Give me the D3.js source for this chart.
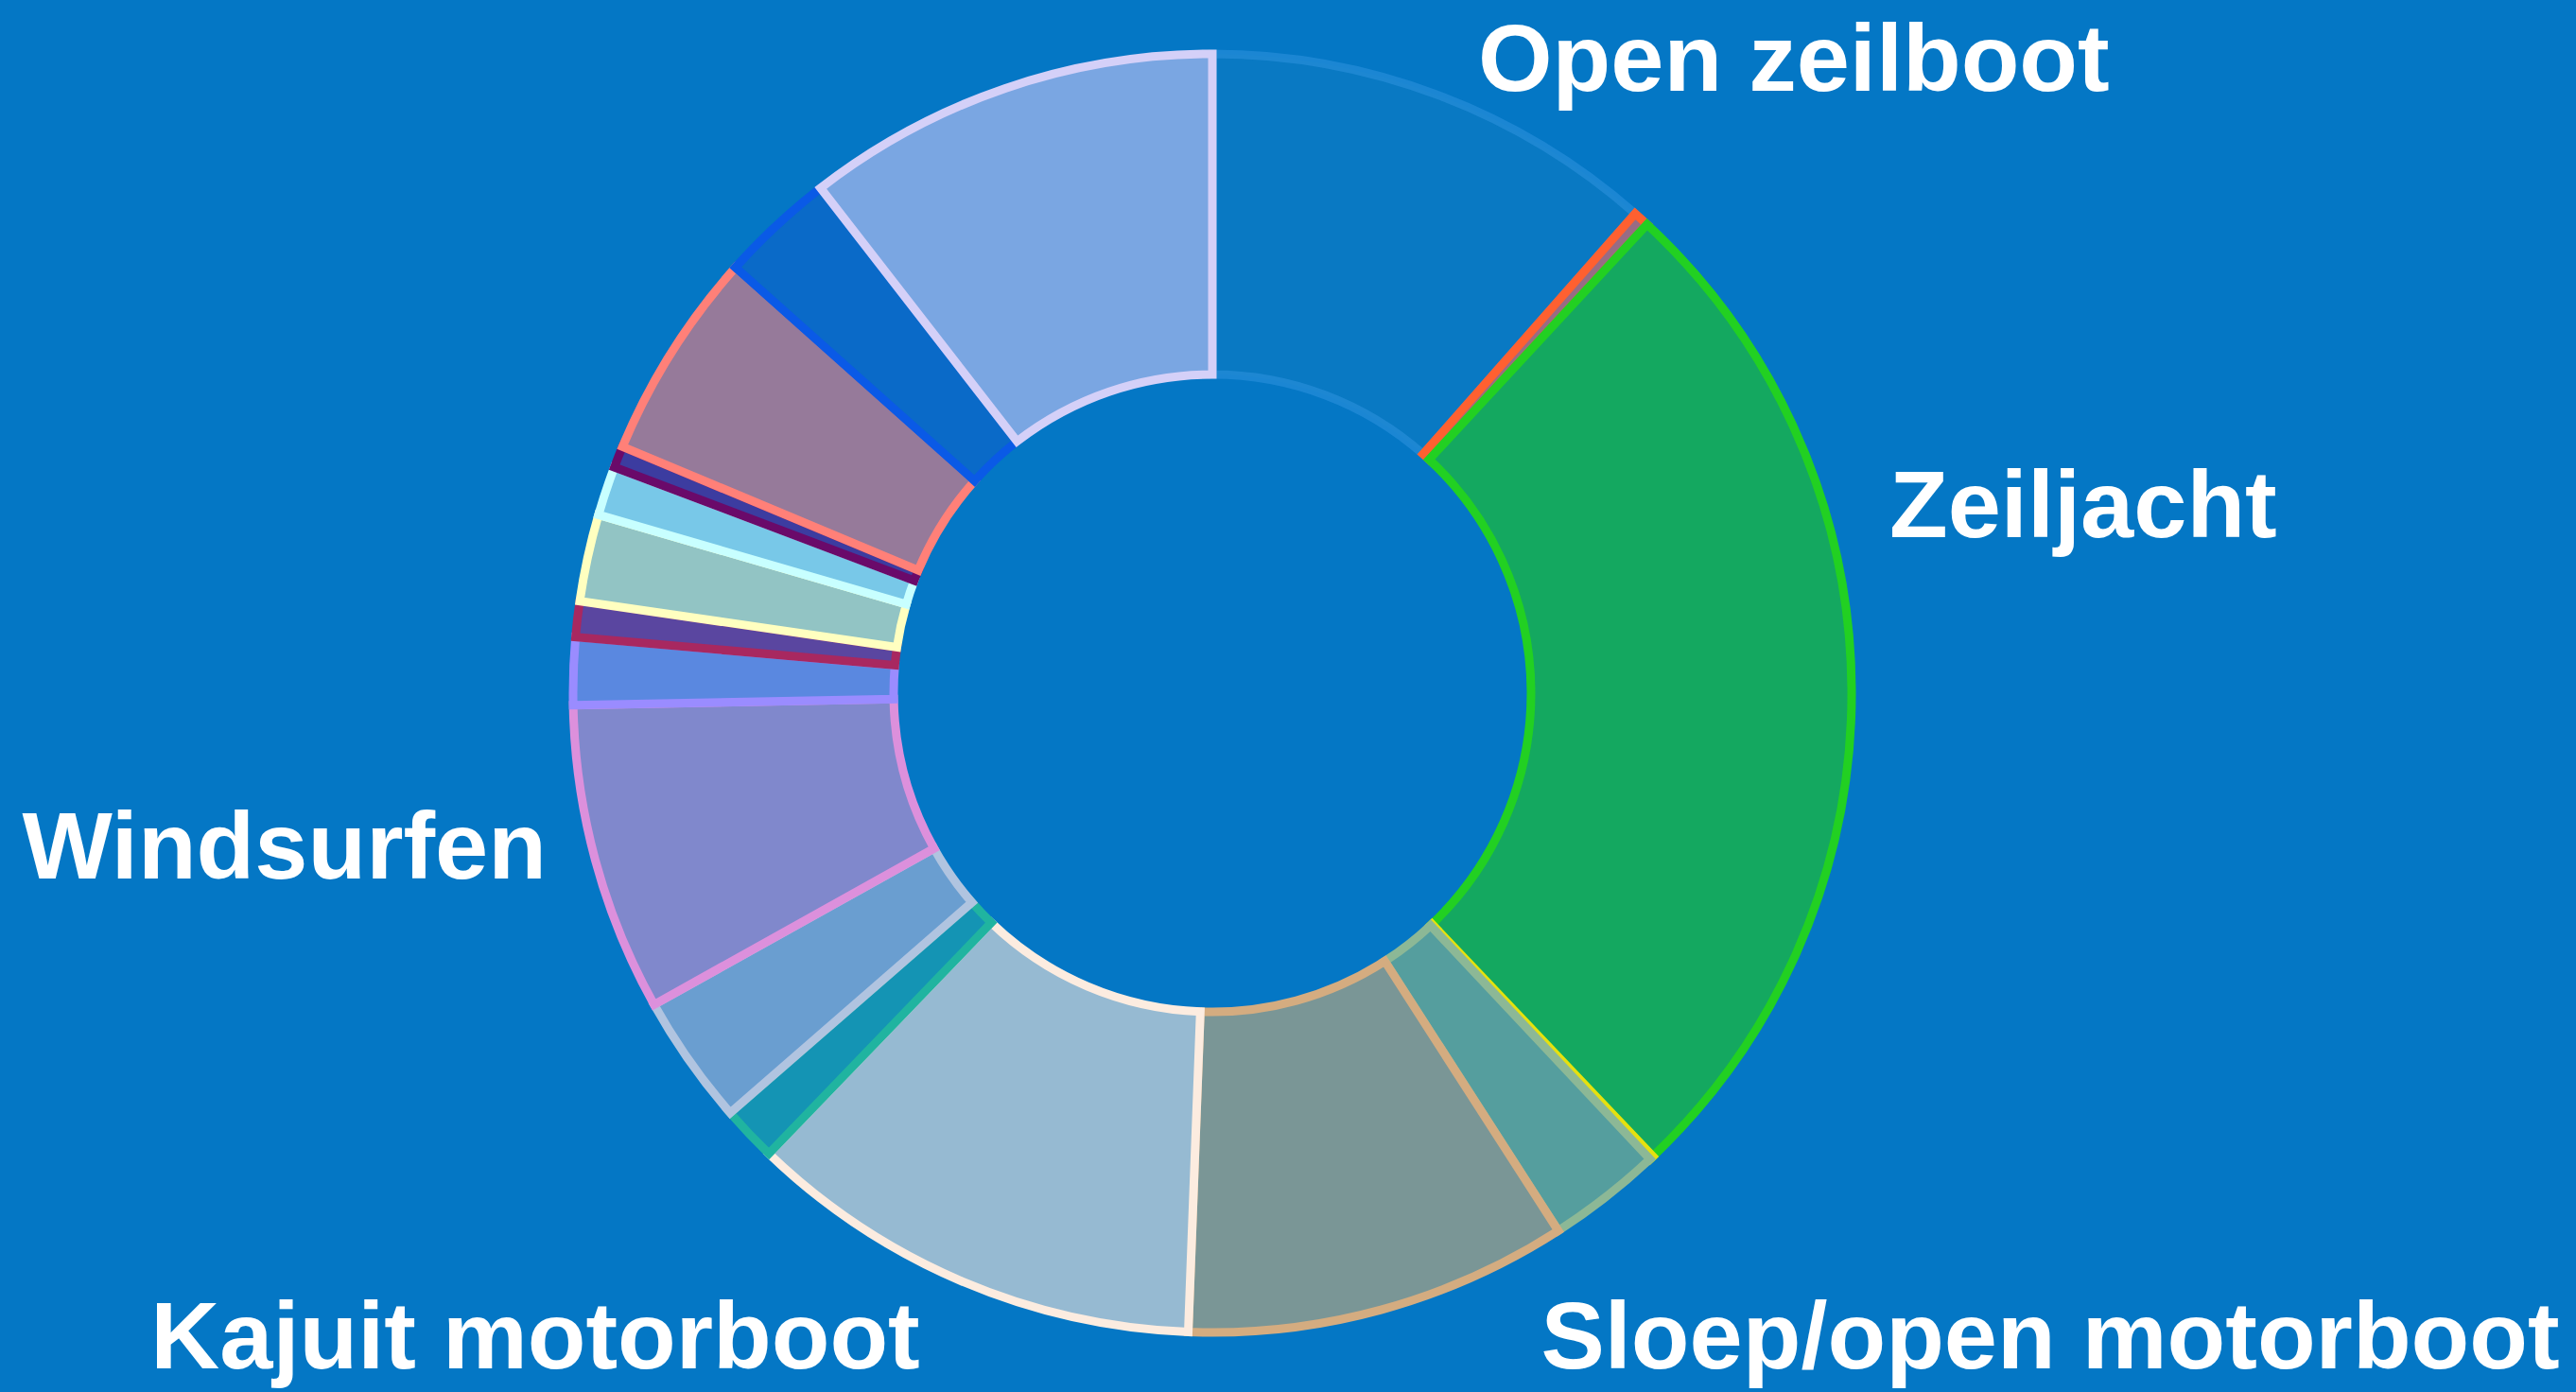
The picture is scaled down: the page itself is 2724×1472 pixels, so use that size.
<!DOCTYPE html>
<html>
<head>
<meta charset="utf-8">
<script src="https://cdn.jsdelivr.net/npm/d3@7"></script>
<style>
  html, body { margin: 0; padding: 0; background: #0477c5; }
  svg { display: block; }
</style>
</head>
<body>
<div id="chart"></div>
<script>
// segments, clockwise from 12 o'clock
const categories = [
  "Open zeilboot", "Overig a", "Zeiljacht", "Overig b", "Overig c",
  "Sloep/open motorboot", "Kajuit motorboot", "Overig d", "Overig e",
  "Windsurfen", "Overig f", "Overig g", "Overig h", "Overig i",
  "Overig j", "Overig k", "Overig l", "Overig m"
];
const values = [
  11.5, 0.4, 26.0, 0.1, 2.9,
  9.7, 11.6, 1.4, 3.3,
  7.8, 1.7, 0.9, 2.2, 1.25,
  0.55, 5.3, 2.9, 10.5
];
// only these get a text label
const labels = [
  "Open zeilboot", "", "Zeiljacht", "", "",
  "Sloep/open motorboot", "Kajuit motorboot", "", "",
  "Windsurfen", "", "", "", "",
  "", "", "", ""
];

const fills = [
  "#0979c3", "#986c84", "#14a860", "#a8bc48", "#559e9e",
  "#7a9696", "#96bad2", "#1494b4", "#6a9ed0",
  "#8088cc", "#5a88e0", "#5a46a0", "#92c4c4", "#78c8e8",
  "#3c3ca0", "#967a9a", "#0a6ac8", "#7aa6e2"
];
const strokes = [
  "rgba(50,150,225,0.5)", "#ff6030", "#22d022", "#e6e010", "#8cb896",
  "#d4ac80", "#fcece0", "#20b4a0", "#b0c4e0",
  "#dc90dc", "#9a8cff", "#a82860", "#ffffc0", "#c8ffff",
  "#6a0a6a", "#ff8078", "#0a5ae6", "#d4d0f8"
];

// label anchor offsets from the donut centre
const labelLayout = {
  "Open zeilboot":        {dx: 281,  dy: -637, anchor: "start"},
  "Zeiljacht":            {dx: 716,  dy: -165, anchor: "start"},
  "Windsurfen":           {dx: -704, dy: 196,  anchor: "end"},
  "Kajuit motorboot":     {dx: -716, dy: 714,  anchor: "middle"},
  "Sloep/open motorboot": {dx: 886,  dy: 714,  anchor: "middle"}
};

const width = 2724;
const height = 1472;
const cx = 1282, cy = 733;
const outerR = 676, innerR = 337;

const svg = d3.select("#chart")
  .append("svg")
  .attr("width", width)
  .attr("height", height);

svg.append("rect")
  .attr("width", width)
  .attr("height", height)
  .attr("fill", "#0477c5");

const data = categories.map((c, i) => ({name: c, value: values[i], label: labels[i], i: i}));

const pie = d3.pie()
  .sort(null)
  .value(d => d.value);

const arc = d3.arc()
  .innerRadius(innerR)
  .outerRadius(outerR);

const g = svg.append("g")
  .attr("transform", `translate(${cx},${cy})`);

g.selectAll("path")
  .data(pie(data))
  .join("path")
  .attr("d", arc)
  .attr("fill", d => fills[d.data.i])
  .attr("stroke", d => strokes[d.data.i])
  .attr("stroke-width", 9)
  .attr("stroke-linejoin", "miter");

g.selectAll("text")
  .data(data.filter(d => d.label !== ""))
  .join("text")
  .attr("x", d => labelLayout[d.label].dx)
  .attr("y", d => labelLayout[d.label].dy)
  .attr("text-anchor", d => labelLayout[d.label].anchor)
  .attr("fill", "#ffffff")
  .style("font-family", "'Liberation Sans', Arial, sans-serif")
  .style("font-weight", "bold")
  .style("font-size", "101px")
  .text(d => d.label);
</script>
</body>
</html>
